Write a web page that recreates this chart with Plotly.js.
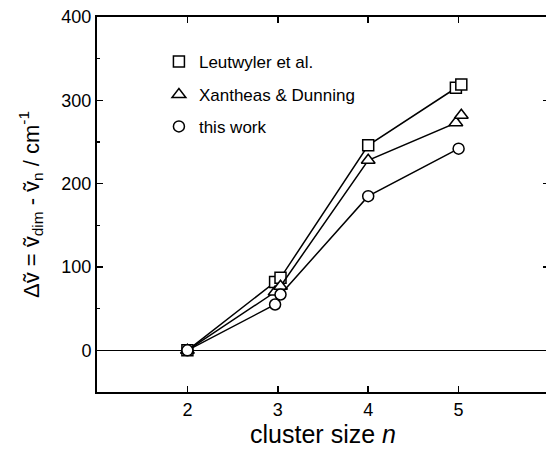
<!DOCTYPE html>
<html>
<head>
<meta charset="utf-8">
<script src="https://cdn.plot.ly/plotly-3.0.1.min.js"></script>
<style>
html,body{margin:0;padding:0;overflow:hidden;background:#fff;}
#chart{width:552px;height:449px;}
</style>
</head>
<body>
<div id="chart"></div>
<script>
// Data
const nLeut = [2, 2.97, 3.03, 4, 4.97, 5.03];
const leutwyler = [0, 82, 87, 246, 315, 319];
const nXan = [2, 2.97, 3.03, 4, 4.97, 5.03];
const xantheas = [0, 70, 77, 228, 273, 282];
const nThis = [2, 2.97, 3.03, 4, 5];
const thisWork = [0, 55, 67, 185, 242];
const seriesNames = ['Leutwyler et al.', 'Xantheas &amp; Dunning', 'this work'];
const xTicks = [2, 3, 4, 5];

const FONT = 'Liberation Sans, Arial, Helvetica, sans-serif';
const lineStyle = {color: '#000', width: 1.5};
function mk(symbol, size) {
  return {symbol: symbol, size: size, color: '#fff', line: {color: '#000', width: 1.5}};
}

const traces = [
  {x: nLeut, y: leutwyler, mode: 'lines+markers', line: lineStyle, marker: mk('square', 11), showlegend: false, hoverinfo: 'none'},
  {x: nXan, y: xantheas, mode: 'lines+markers', line: lineStyle, marker: mk('triangle-up', 12), showlegend: false, hoverinfo: 'none'},
  {x: nThis, y: thisWork, mode: 'lines+markers', line: lineStyle, marker: mk('circle', 11), showlegend: false, hoverinfo: 'none'},
  // legend entries (markers only)
  {x: [null], y: [null], mode: 'markers', marker: mk('square', 11), name: seriesNames[0], legend: 'legend', showlegend: true},
  {x: [null], y: [null], mode: 'markers', marker: mk('triangle-up', 12), name: seriesNames[1], legend: 'legend2', showlegend: true},
  {x: [null], y: [null], mode: 'markers', marker: mk('circle', 11), name: seriesNames[2], legend: 'legend3', showlegend: true}
];

const legBase = {xanchor: 'left', yanchor: 'middle', bgcolor: 'rgba(0,0,0,0)', borderwidth: 0,
  font: {family: FONT, size: 17, color: '#000'}, itemclick: false};

const layout = {
  width: 552, height: 449,
  margin: {l: 97, r: 3, t: 17, b: 57},
  paper_bgcolor: '#fff', plot_bgcolor: '#fff',
  font: {family: FONT, color: '#000'},
  xaxis: {
    range: [1, 6], tickvals: xTicks, ticktext: xTicks.map(String),
    ticks: 'inside', ticklen: 6, tickwidth: 1.5, tickcolor: '#000',
    showline: true, linewidth: 2, linecolor: '#000', mirror: 'ticks',
    showgrid: false, zeroline: false,
    tickfont: {family: FONT, size: 18, color: '#000'},
    title: {text: 'cluster size <i>n</i>', font: {family: FONT, size: 25, color: '#000'}, standoff: 2}
  },
  yaxis: {
    range: [-50, 400], dtick: 100, tick0: 0,
    ticks: 'inside', ticklen: 6, tickwidth: 1.5, tickcolor: '#000',
    minor: {dtick: 50, ticks: 'inside', ticklen: 3, tickwidth: 1.5, tickcolor: '#000', showgrid: false},
    showline: true, linewidth: 2, linecolor: '#000', mirror: 'ticks',
    showgrid: false, zeroline: true, zerolinecolor: '#000', zerolinewidth: 1.5,
    tickfont: {family: FONT, size: 18, color: '#000'},
    title: {text: 'Δṽ = ṽ<sub>dim</sub> - ṽ<sub>n</sub> / cm<sup>-1</sup>', font: {family: FONT, size: 22, color: '#000'}, standoff: 16}
  },
  legend: Object.assign({x: 0.137, y: 0.88}, legBase),
  legend2: Object.assign({x: 0.137, y: 0.792}, legBase),
  legend3: Object.assign({x: 0.137, y: 0.707}, legBase)
};

Plotly.newPlot('chart', traces, layout, {displayModeBar: false, staticPlot: true});
</script>
</body>
</html>
